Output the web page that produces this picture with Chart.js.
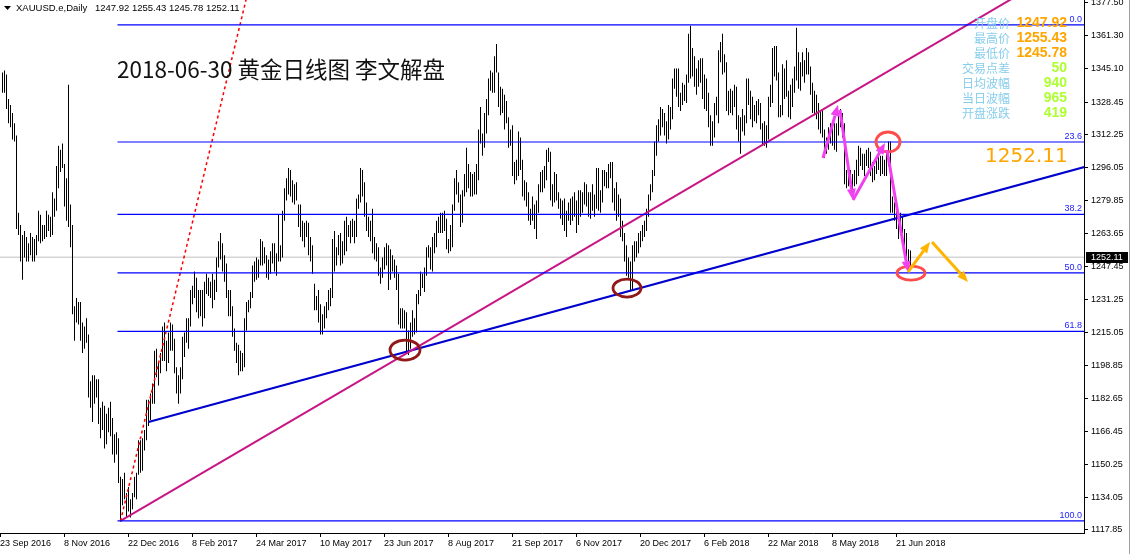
<!DOCTYPE html>
<html><head><meta charset="utf-8">
<script src="https://cdn.jsdelivr.net/npm/chart.js@4"></script>
<style>html,body{margin:0;padding:0;background:#fff;overflow:hidden}canvas{display:block}</style>
</head><body>
<canvas id="c" width="1131" height="554"></canvas>
<script>
// ---- data (daily bars: index 0 = 23 Sep 2016) ----
const highs = [1343,
1344,1342,1330,1327,1323, 1318,1312,1274,1268,1263, 1265,1262,1259,1264,1262, 1261,1263,1275,1273,1268,
1268,1275,1273,1272,1284, 1281,1297,1307,1305,1308, 1298,1291,1337,1278,1268, 1228,1232,1230,1230,1220,
1218,1222,1214,1191,1194, 1194,1192,1192,1178,1181, 1179,1175,1178,1181,1173, 1165,1166,1163,1144,1143,
1146,1136,1139,1133,1136, 1144,1146,1162,1162, 1163,1167,1182,1182, 1185,1190,1206,1207,1200,
1205,1218,1220,1211,1215, 1220,1219,1212,1198,1194, 1198,1213,1215,1222,1222, 1236,1238,1245,1242,1236,
1236,1236,1240,1244,1242, 1240,1244,1241,1252,1260, 1264,1259,1253,1249,1236, 1236,1228,1217,1210,1209,
1206,1205,1222,1230,1231, 1235,1248,1250,1252,1251, 1261,1260,1257,1253,1251, 1255,1259,1259,1254,1273,
1258,1275,1286,1291, 1296,1295,1290,1288,1289, 1278,1278,1270,1269,1270, 1269,1262,1258,1239,1233,
1236,1229,1224,1228,1230, 1236,1237,1261,1265,1257, 1263,1264,1260,1270,1272, 1268,1270,1271,1270,1281,
1283,1296,1295,1289,1279, 1272,1270,1276,1262,1259, 1257,1247,1252,1257,1259, 1258,1256,1253,1251,1248,
1244,1227,1227,1226,1225, 1216,1220,1226,1222,1234, 1236,1245,1244,1247,1257, 1258,1257,1262,1264,1270,
1272,1274,1274,1275,1271, 1261,1268,1278,1291,1295, 1289,1283,1285,1293,1306, 1298,1294,1293,1294,1298,
1315,1326,1313,1323,1330, 1340,1344,1343,1351,1357, 1343,1336,1335,1332,1329, 1321,1315,1317,1299,1300,
1314,1311,1300,1290,1289, 1284,1276,1282,1278,1280, 1288,1294,1295,1297,1305, 1306,1304,1288,1294,1293,
1284,1281,1280,1281,1275, 1279,1281,1282,1284,1280, 1285,1285,1284,1289,1288, 1284,1284,1288,1283,1296,
1296,1285,1295,1295,1294, 1298,1299,1299,1286,1289, 1283,1281,1270,1264,1258, 1252,1250,1258,1260,1260,
1264,1265,1268,1270,1276, 1283,1288,1295,1309, 1317,1320,1326,1325, 1323,1319,1327,1326,1340,
1345,1345,1345,1333,1338, 1337,1342,1362,1366,1355, 1351,1345,1349,1350,1350, 1342,1340,1333,1322,1319,
1328,1331,1354,1358,1362, 1352,1348,1334,1335,1334, 1337,1336,1322,1321,1325, 1322,1340,1340,1334,1331,
1327,1329,1330,1328,1318, 1319,1317,1331,1337,1355, 1356,1356,1343,1327, 1347,1345,1349,1334,1337,
1340,1346,1365,1353,1348, 1353,1349,1355,1353,1346, 1338,1334,1332,1328,1324, 1325,1315,1311,1316,1318,
1318,1318,1318,1323,1325, 1323,1318,1295,1294,1295, 1293,1295,1300,1307,1306, 1303,1303,1305,1306,1304,
1299,1297,1302,1304,1302, 1302,1300,1304,1309,1309, 1282,1279,1276,1273,1274, 1272,1266,1264,1256,1255.43];
const lows = [1333,
1333,1325,1318,1316,1310, 1309,1266,1263,1250,1241, 1252,1250,1250,1253,1250, 1250,1253,1260,1259,1260,
1261,1262,1265,1262,1263, 1272,1275,1286,1294,1296, 1277,1270,1267,1257,1224, 1211,1220,1219,1211,1205,
1207,1210,1183,1178,1171, 1180,1183,1170,1163,1167, 1158,1160,1166,1164,1155, 1151,1155,1141,1122,1130,
1133,1124,1127,1124,1128, 1134,1133,1145,1146, 1147,1157,1162,1169, 1172,1180,1180,1193,1189,
1195,1201,1201,1196,1200, 1206,1206,1195,1185,1180, 1185,1192,1203,1210,1207, 1218,1229,1232,1225,1222,
1223,1218,1222,1234,1233, 1232,1227,1231,1235,1247, 1251,1245,1240,1232,1223, 1223,1213,1206,1200,1194,
1196,1196,1198,1216,1225, 1227,1232,1240,1241,1242, 1248,1248,1249,1242,1241, 1244,1249,1245,1243,1250,
1250,1252,1270,1280, 1283,1282,1279,1278,1280, 1267,1262,1260,1257,1262, 1253,1250,1244,1226,1226,
1220,1214,1214,1217,1222, 1226,1228,1232,1245,1248, 1253,1248,1249,1253,1255, 1262,1259,1262,1259,1262,
1276,1279,1282,1272,1265, 1262,1260,1254,1251,1250, 1243,1239,1242,1246,1248, 1236,1241,1245,1242,1236,
1219,1217,1217,1217,1205, 1204,1207,1213,1214,1215, 1229,1233,1237,1235,1243, 1252,1246,1245,1254,1257,
1264,1264,1264,1265,1256, 1254,1255,1257,1275,1283, 1279,1267,1269,1282,1284, 1286,1282,1282,1283,1283,
1290,1308,1302,1306,1313, 1322,1334,1333,1333,1343, 1326,1322,1323,1315,1318, 1306,1307,1292,1288,1290,
1292,1295,1282,1280,1277, 1270,1268,1270,1266,1261, 1274,1284,1284,1286,1290, 1299,1280,1277,1279,1280,
1276,1271,1268,1265,1262, 1270,1268,1270,1272,1264, 1268,1272,1274,1278,1277, 1272,1271,1275,1272,1276,
1275,1274,1279,1287,1286, 1286,1291,1279,1275,1270, 1272,1262,1260,1250,1243, 1242,1236,1236,1250,1252,
1254,1257,1260,1262,1265, 1272,1280,1284,1292, 1302,1309,1312,1316, 1312,1308,1310,1315,1320,
1335,1331,1326,1324,1327, 1329,1328,1338,1340,1341, 1336,1332,1336,1338,1330, 1325,1324,1316,1307,1307,
1311,1322,1318,1348,1342, 1343,1324,1322,1323,1322, 1326,1315,1309,1303,1314, 1312,1318,1327,1320,1316,
1319,1318,1322,1315,1307, 1307,1306,1310,1326,1328, 1341,1339,1321,1321, 1322,1330,1331,1321,1320,
1326,1333,1339,1335,1334, 1341,1338,1342,1342,1332, 1323,1322,1320,1315,1313, 1311,1301,1303,1305,1308,
1307,1305,1304,1312,1316, 1311,1288,1286,1287,1286, 1281,1287,1288,1292,1297, 1295,1292,1297,1296,1292,
1289,1290,1293,1295,1292, 1293,1292,1292,1297,1274, 1274,1270,1266,1261,1266, 1264,1256,1250,1246,1245.78];

const dateLabels = ['23 Sep 2016','8 Nov 2016','22 Dec 2016','8 Feb 2017','24 Mar 2017','10 May 2017','23 Jun 2017','8 Aug 2017','21 Sep 2017','6 Nov 2017','20 Dec 2017','6 Feb 2018','22 Mar 2018','8 May 2018','21 Jun 2018'];
const dateIdx = [0,32,64,96,128,160,192,224,256,288,320,352,384,416,448];
const priceTicks = [1377.50,1361.30,1345.10,1328.45,1312.25,1296.05,1279.85,1263.65,1247.45,1231.25,1215.05,1198.85,1182.65,1166.45,1150.25,1134.05,1117.85];

const fibHigh = 1366.4, fibLow = 1122.3, fibStartIdx = 57.5;
const fibLevels = [0, 23.6, 38.2, 50.0, 61.8, 100.0];
const lastPrice = 1252.11;
const ohlc = [1247.92, 1255.43, 1245.78, 1252.11];

const redDotLine = [[59,1122.3],[125,1392]];
const magentaLine = [[59,1122.3],[541,1400.2]];
const blueLine = [[73,1171.0],[541,1296.5]];

const circleAt = [[201.25,1206.4],[312.25,1236.9],[442.75,1308.8],[454.25,1244.3]];
const magentaArrows = [[410.25,1300.9,417.75,1327.0],[418.75,1324.5,425.25,1280.3],[425.25,1280.3,441.25,1308.3],[442.25,1304.9,452.75,1244.8]];
const yellowArrows = [[452.75,1244.8,463.75,1259.6],[464.75,1259.6,482.75,1239.9]];

const title = '2018-06-30 黄金日线图 李文解盘';
const infoLabels = ['开盘价','最高价','最低价','交易点差','日均波幅','当日波幅','开盘涨跌'];
const infoValues = ['1247.92','1255.43','1245.78','50','940','965','419'];

// ---- chart ----
const X_MIN = -1.25, X_MAX = 540.75, Y_MIN = 1116.37, Y_MAX = 1378.67;
Chart.defaults.font.family = '"Liberation Sans", Arial, sans-serif';

const bars = highs.map((h,i)=>({x:i, y:[lows[i], h]}));
const seg = pts => pts.map(p=>({x:p[0], y:p[1]}));
const lineDs = (data,color,w,extra) => Object.assign({type:'line', data, borderColor:color, borderWidth:w, pointRadius:0, tension:0, fill:false, order:1}, extra||{});

const datasets = [
  {type:'bar', data:bars, backgroundColor:'#000', borderWidth:0, barThickness:1, inflateAmount:0, grouped:false, order:10},
  lineDs([{x:X_MIN,y:lastPrice},{x:X_MAX,y:lastPrice}], '#c0c0c0', 1, {order:11})
];
fibLevels.forEach(p=>{
  const v = fibHigh - p/100*(fibHigh-fibLow);
  datasets.push(lineDs([{x:fibStartIdx,y:v},{x:X_MAX,y:v}], '#0000ff', 1.2));
});
datasets.push(lineDs(seg(redDotLine), '#ff0000', 1.5, {borderDash:[3,3]}));
datasets.push(lineDs(seg(magentaLine), '#c71585', 2));
datasets.push(lineDs(seg(blueLine), '#0000cd', 2.2));

function arrow(ctx,x1,y1,x2,y2,color,lw,hl,hw){
  const a=Math.atan2(y2-y1,x2-x1), c=Math.cos(a), s=Math.sin(a);
  const bx=x2-hl*c, by=y2-hl*s;
  ctx.strokeStyle=color; ctx.lineWidth=lw; ctx.lineCap='butt';
  ctx.beginPath(); ctx.moveTo(x1,y1); ctx.lineTo(bx,by); ctx.stroke();
  ctx.fillStyle=color; ctx.beginPath(); ctx.moveTo(x2,y2);
  ctx.lineTo(bx+hw*s, by-hw*c); ctx.lineTo(bx-hw*s, by+hw*c); ctx.closePath(); ctx.fill();
}

const annot = {
  id:'annot',
  beforeDraw(chart){ const c=chart.ctx; c.save(); c.fillStyle='#fff'; c.fillRect(0,0,chart.width,chart.height); c.restore(); },
  afterDatasetsDraw(chart){
    const ctx=chart.ctx, xs=chart.scales.x, ys=chart.scales.y, ca=chart.chartArea;
    ctx.save();
    ctx.beginPath(); ctx.rect(ca.left,ca.top,ca.right-ca.left,ca.bottom-ca.top); ctx.clip();
    // fib labels
    ctx.font='9px "Liberation Sans"'; ctx.fillStyle='#1a1aff'; ctx.textAlign='right'; ctx.textBaseline='bottom';
    fibLevels.forEach(p=>{
      const v = fibHigh - p/100*(fibHigh-fibLow);
      ctx.fillText(p.toFixed(1), ca.right-2, ys.getPixelForValue(v)-1);
    });
    // ellipses
    const cst=[{rx:15,ry:10,c:'#901818'},{rx:14,ry:9,c:'#901818'},{rx:12,ry:10,c:'#ff4c4c'},{rx:14,ry:7,c:'#ff4c4c'}];
    circleAt.forEach((p,i)=>{
      ctx.strokeStyle=cst[i].c; ctx.lineWidth=2.8; ctx.beginPath();
      ctx.ellipse(xs.getPixelForValue(p[0]), ys.getPixelForValue(p[1]), cst[i].rx, cst[i].ry, 0, 0, Math.PI*2); ctx.stroke();
    });
    magentaArrows.forEach(a=>arrow(ctx, xs.getPixelForValue(a[0]), ys.getPixelForValue(a[1]), xs.getPixelForValue(a[2]), ys.getPixelForValue(a[3]), '#f040f0', 3, 11, 4.5));
    yellowArrows.forEach(a=>arrow(ctx, xs.getPixelForValue(a[0]), ys.getPixelForValue(a[1]), xs.getPixelForValue(a[2]), ys.getPixelForValue(a[3]), '#ffb400', 3, 11, 4.5));
    ctx.restore();
  },
  afterDraw(chart){
    const ctx=chart.ctx, ys=chart.scales.y;
    ctx.save();
    // header
    ctx.fillStyle='#000'; ctx.beginPath(); ctx.moveTo(4,6); ctx.lineTo(11,6); ctx.lineTo(7.5,10); ctx.closePath(); ctx.fill();
    ctx.font='9.5px "Liberation Sans"'; ctx.textAlign='left'; ctx.textBaseline='middle';
    ctx.fillText('XAUUSD.e,Daily', 16, 8.5);
    ctx.fillText(ohlc.map(v=>v.toFixed(2)).join(' '), 95, 8.5);
    // title
    ctx.font='22.5px "Noto Sans CJK SC"'; ctx.fillStyle='#111'; ctx.fillText(title, 117, 69);
    // big price
    ctx.font='20px "DejaVu Sans"'; ctx.fillStyle='#ffa500'; ctx.textAlign='left'; ctx.fillText(lastPrice.toFixed(2), 985, 157);
    // info panel
    infoLabels.forEach((t,i)=>{
      const y = 23 + i*15;
      ctx.textAlign='right';
      ctx.font='12px "Noto Sans CJK SC"'; ctx.fillStyle='#87ceeb'; ctx.fillText(t, 1010, y);
      ctx.font='bold 14px "Liberation Sans"'; ctx.fillStyle = i<3 ? '#ffa500' : '#adff2f'; ctx.fillText(infoValues[i], 1067, y+0.5);
    });
    // price box on axis
    const py = Math.round(ys.getPixelForValue(lastPrice));
    ctx.fillStyle='#000'; ctx.fillRect(1086, py-5, 42, 11);
    ctx.fillStyle='#fff'; ctx.font='9px "Liberation Sans"'; ctx.textAlign='left'; ctx.fillText(lastPrice.toFixed(2), 1091, py+0.5);
    // window border
    ctx.fillStyle='#a0a0a0'; ctx.fillRect(1129,0,1,554);
    ctx.restore();
  }
};

new Chart(document.getElementById('c'), {
  type:'bar',
  data:{datasets},
  plugins:[annot],
  options:{
    responsive:false, animation:false, events:[], devicePixelRatio:1,
    layout:{padding:0},
    plugins:{legend:{display:false}, tooltip:{enabled:false}},
    scales:{
      x:{type:'linear', min:X_MIN, max:X_MAX, offset:false,
        grid:{display:true, drawOnChartArea:false, drawTicks:true, tickLength:4, color:'#000', offset:false},
        border:{display:true, color:'#000', width:1},
        ticks:{autoSkip:false, maxRotation:0, minRotation:0, align:'start', padding:1, color:'#000', font:{size:9},
          callback:(v,i)=>dateLabels[i]},
        afterBuildTicks:s=>{ s.ticks = dateIdx.map(d=>({value:d-1.25})); },
        afterFit:s=>{ s.height=21; s.paddingLeft=0; s.paddingRight=0; }
      },
      y:{type:'linear', position:'right', min:Y_MIN, max:Y_MAX,
        grid:{display:true, drawOnChartArea:false, drawTicks:true, tickLength:4, color:'#000'},
        border:{display:true, color:'#000', width:1},
        ticks:{autoSkip:false, padding:3, color:'#000', font:{size:9}, callback:v=>Number(v).toFixed(2)},
        afterBuildTicks:s=>{ s.ticks = priceTicks.map(v=>({value:v})); },
        afterFit:s=>{ s.width=47; s.paddingTop=0; s.paddingBottom=0; }
      }
    }
  }
});
</script>
</body></html>
